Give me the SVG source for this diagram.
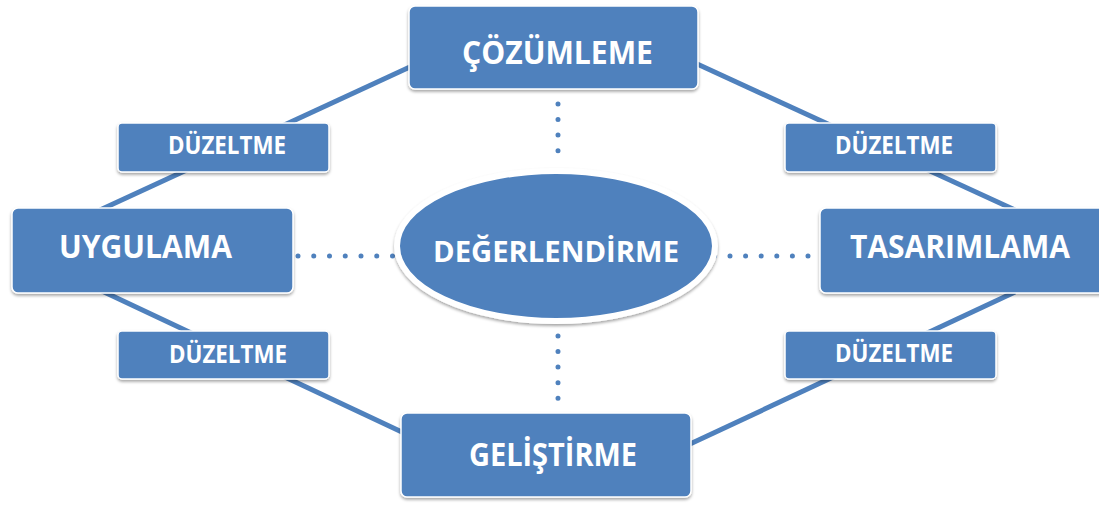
<svg xmlns="http://www.w3.org/2000/svg" width="1099" height="505" viewBox="0 0 1099 505">
<defs>
<filter id="sh" x="-10%" y="-20%" width="120%" height="150%">
<feDropShadow dx="0" dy="2" stdDeviation="1.8" flood-color="#000" flood-opacity="0.35"/>
</filter>
<style>
.box{fill:#4f81bd;stroke:#fff;stroke-width:1.5;filter:url(#sh)}
.lbl{fill:#fff;font-family:"Open Sans","Liberation Sans",sans-serif;font-weight:700;text-anchor:middle}
.big{font-size:32px}
.sm{font-size:24.5px}
.conn{stroke:#4f81bd;stroke-width:5;fill:none}
.dot{stroke:#4f81bd;stroke-width:5;stroke-linecap:round;fill:none}
</style>
</defs>
<rect width="1099" height="505" fill="#fff"/>
<g id="connectors">
<line class="conn" x1="412" y1="66" x2="100" y2="210"/>
<line class="conn" x1="102" y1="291" x2="404" y2="433"/>
<line class="conn" x1="695" y1="63" x2="1015" y2="210"/>
<line class="conn" x1="1015" y1="292" x2="690" y2="444"/>
<line class="dot" x1="558" y1="104" x2="558" y2="166.2" stroke-dasharray="0 15.55"/>
<line class="dot" x1="558" y1="336" x2="558" y2="398.2" stroke-dasharray="0 15.55"/>
<line class="dot" x1="298" y1="256" x2="392.6" y2="256" stroke-dasharray="0 15.75"/>
<line class="dot" x1="714.4" y1="256" x2="808.1" y2="256" stroke-dasharray="0 15.6"/>
</g>
<g id="node-cozumleme">
<rect class="box" x="409" y="6" width="289" height="83" rx="6"/>
<text class="lbl big" x="557.5" y="64" textLength="191" lengthAdjust="spacingAndGlyphs">ÇÖZÜMLEME</text>
</g>
<g id="node-uygulama">
<rect class="box" x="12" y="208" width="281" height="85" rx="6"/>
<text class="lbl big" x="145.5" y="258" textLength="173" lengthAdjust="spacingAndGlyphs">UYGULAMA</text>
</g>
<g id="node-tasarimlama">
<rect class="box" x="820" y="208" width="286" height="85" rx="6"/>
<text class="lbl big" x="960" y="258" textLength="220" lengthAdjust="spacingAndGlyphs">TASARIMLAMA</text>
</g>
<g id="node-gelistirme">
<rect class="box" x="401" y="413" width="290" height="84" rx="6"/>
<text class="lbl big" x="553" y="466" textLength="168" lengthAdjust="spacingAndGlyphs">GELİŞTİRME</text>
</g>
<g id="node-degerlendirme">
<ellipse cx="556" cy="246" rx="159" ry="75" fill="#4f81bd" stroke="#fff" stroke-width="6" filter="url(#sh)"/>
<text class="lbl" x="556" y="262" font-size="29" textLength="246" lengthAdjust="spacingAndGlyphs">DEĞERLENDİRME</text>
</g>
<g id="node-duzeltme-tl">
<rect class="box" x="118" y="123" width="211" height="49" rx="4"/>
<text class="lbl sm" x="227" y="154" textLength="118" lengthAdjust="spacingAndGlyphs">DÜZELTME</text>
</g>
<g id="node-duzeltme-tr">
<rect class="box" x="785" y="123" width="211" height="49" rx="4"/>
<text class="lbl sm" x="894" y="154" textLength="118" lengthAdjust="spacingAndGlyphs">DÜZELTME</text>
</g>
<g id="node-duzeltme-bl">
<rect class="box" x="118" y="331" width="211" height="48" rx="4"/>
<text class="lbl sm" x="228" y="363" textLength="118" lengthAdjust="spacingAndGlyphs">DÜZELTME</text>
</g>
<g id="node-duzeltme-br">
<rect class="box" x="785" y="331" width="211" height="48" rx="4"/>
<text class="lbl sm" x="894" y="362" textLength="118" lengthAdjust="spacingAndGlyphs">DÜZELTME</text>
</g>
</svg>
